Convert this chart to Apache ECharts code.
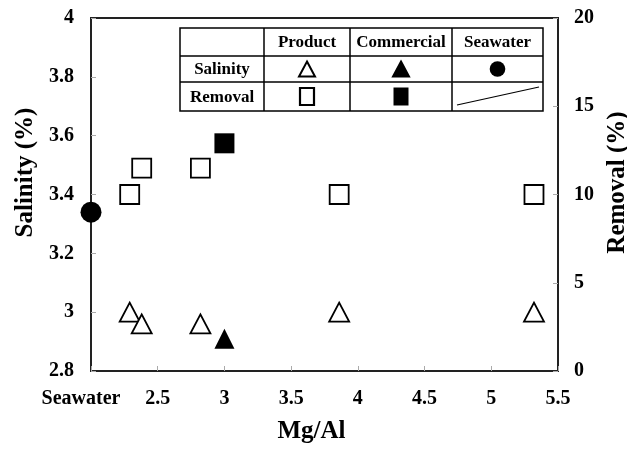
<!DOCTYPE html>
<html><head><meta charset="utf-8">
<script src="https://cdn.jsdelivr.net/npm/echarts@6/dist/echarts.min.js"></script>
<style>html,body{margin:0;padding:0;background:#fff}#c{width:627px;height:452px}</style>
</head><body><div id="c"></div>
<script>
// Mg/Al ratio (x), 2 = "Seawater" position
const productX = [2.29, 2.38, 2.82, 3.86, 5.32];
const productSalinity = [3.0, 2.96, 2.96, 3.0, 3.0];
const productRemoval = [10.0, 11.5, 11.5, 10.0, 10.0];
const commercialX = [3.0];
const commercialSalinity = [2.91];
const commercialRemoval = [12.9];
const seawaterX = [2];
const seawaterSalinity = [3.34];
const xTickLabels = {2: 'Seawater'};
const tableCols = ['Product', 'Commercial', 'Seawater'];
const tableRows = ['Salinity', 'Removal'];

const FONT = '"Liberation Serif", "Times New Roman", serif';
const zip = (xs, ys) => xs.map((x, i) => [x, ys[i]]);

const chart = echarts.init(document.getElementById('c'));

// legend table geometry
const tx = [180, 264, 350, 452, 543];
const ty = [28, 56, 82, 111];
const g = [];
g.push({type:'rect', shape:{x:tx[0], y:ty[0], width:tx[4]-tx[0], height:ty[3]-ty[0]}, style:{fill:'#fff', stroke:'#000', lineWidth:1.5}, z:10});
for (let i = 1; i < 4; i++) g.push({type:'line', shape:{x1:tx[i], y1:ty[0], x2:tx[i], y2:ty[3]}, style:{stroke:'#000', lineWidth:1.5}, z:11});
for (let j = 1; j < 3; j++) g.push({type:'line', shape:{x1:tx[0], y1:ty[j], x2:tx[4], y2:ty[j]}, style:{stroke:'#000', lineWidth:1.5}, z:11});
const txt = (s, cx, cy) => ({type:'text', x:cx, y:cy, style:{text:s, font:'bold 17px ' + FONT, fill:'#000', align:'center', verticalAlign:'middle'}, z:12});
tableCols.forEach((s, i) => g.push(txt(s, (tx[i+1]+tx[i+2])/2, (ty[0]+ty[1])/2 + 1)));
tableRows.forEach((s, j) => g.push(txt(s, (tx[0]+tx[1])/2, (ty[j+1]+ty[j+2])/2 + 1)));
const cxs = [1,2,3].map(i => (tx[i]+tx[i+1])/2);
const r1 = (ty[1]+ty[2])/2, r2 = (ty[2]+ty[3])/2;
const tri = (cx, cy, fill) => ({type:'polygon', shape:{points:[[cx, cy-7.5],[cx+8, cy+7.5],[cx-8, cy+7.5]]}, style:{fill:fill, stroke:'#000', lineWidth:2}, z:12});
g.push(tri(cxs[0], r1, '#fff'));
g.push(tri(cxs[1], r1, '#000'));
g.push({type:'circle', shape:{cx:cxs[2], cy:r1, r:7.8}, style:{fill:'#000'}, z:12});
g.push({type:'rect', shape:{x:cxs[0]-7, y:r2-8.5, width:14, height:17}, style:{fill:'#fff', stroke:'#000', lineWidth:2.2}, z:12});
g.push({type:'rect', shape:{x:cxs[1]-7.5, y:r2-9, width:15, height:18}, style:{fill:'#000'}, z:12});
g.push({type:'line', shape:{x1:457, y1:105, x2:539, y2:87}, style:{stroke:'#000', lineWidth:1.2}, z:12});

const openStyle = {color:'#fff', borderColor:'#000', borderWidth:1.8, opacity:1};
const fillStyle = {color:'#000', opacity:1};
const nameStyle = {fontFamily:FONT, fontWeight:'bold', fontSize:25, color:'#000'};
const labelStyle = {fontFamily:FONT, fontWeight:'bold', fontSize:20, color:'#000'};

chart.setOption({
  animation:false,
  textStyle:{fontFamily:FONT},
  grid:{left:91, right:69, top:18, bottom:81, containLabel:false, outerBoundsMode:'none',
    show:true, borderColor:'#222', borderWidth:2, backgroundColor:'#fff'},
  xAxis:{type:'value', min:2, max:5.5, interval:0.5,
    name:'Mg/Al', nameLocation:'middle', nameGap:48,
    nameTextStyle:Object.assign({padding:[0,26,0,0]}, nameStyle),
    axisLine:{lineStyle:{color:'#222', width:2}},
    axisTick:{inside:true, length:5, lineStyle:{color:'#aaa'}},
    splitLine:{show:false},
    axisLabel:Object.assign({margin:18,
      formatter:v => xTickLabels[v] ? '{sw|' + xTickLabels[v] + '}' : String(+v.toFixed(1)),
      rich:{sw:Object.assign({padding:[0,20,0,0]}, labelStyle)}}, labelStyle)
  },
  yAxis:[
    {type:'value', min:2.8, max:4, interval:0.2, position:'left',
      name:'Salinity (%)', nameLocation:'middle', nameGap:52,
      nameTextStyle:Object.assign({padding:[0,0,0,44]}, nameStyle),
      axisLine:{show:true, lineStyle:{color:'#222', width:2}},
      axisTick:{show:true, inside:true, length:5, lineStyle:{color:'#aaa'}},
      splitLine:{show:false},
      axisLabel:Object.assign({margin:17, formatter:v => String(+v.toFixed(1))}, labelStyle)
    },
    {type:'value', min:0, max:20, interval:5, position:'right',
      name:'Removal (%)', nameLocation:'middle', nameGap:44, nameRotate:90,
      nameTextStyle:Object.assign({padding:[0,0,0,24]}, nameStyle),
      axisLine:{show:true, lineStyle:{color:'#222', width:2}},
      axisTick:{show:true, inside:true, length:5, lineStyle:{color:'#aaa'}},
      splitLine:{show:false},
      axisLabel:Object.assign({margin:16}, labelStyle)
    }
  ],
  graphic:g,
  series:[
    {name:'Product Salinity', type:'scatter', yAxisIndex:0, symbol:'triangle', symbolSize:[20,19], clip:false,
      itemStyle:openStyle, data:zip(productX, productSalinity)},
    {name:'Product Removal', type:'scatter', yAxisIndex:1, symbol:'rect', symbolSize:19, clip:false,
      itemStyle:openStyle, data:zip(productX, productRemoval)},
    {name:'Commercial Salinity', type:'scatter', yAxisIndex:0, symbol:'triangle', symbolSize:[20,20], clip:false,
      itemStyle:fillStyle, data:zip(commercialX, commercialSalinity)},
    {name:'Commercial Removal', type:'scatter', yAxisIndex:1, symbol:'rect', symbolSize:20, clip:false,
      itemStyle:fillStyle, data:zip(commercialX, commercialRemoval)},
    {name:'Seawater Salinity', type:'scatter', yAxisIndex:0, symbol:'circle', symbolSize:21, clip:false,
      itemStyle:fillStyle, data:zip(seawaterX, seawaterSalinity), z:5}
  ]
});
</script></body></html>
